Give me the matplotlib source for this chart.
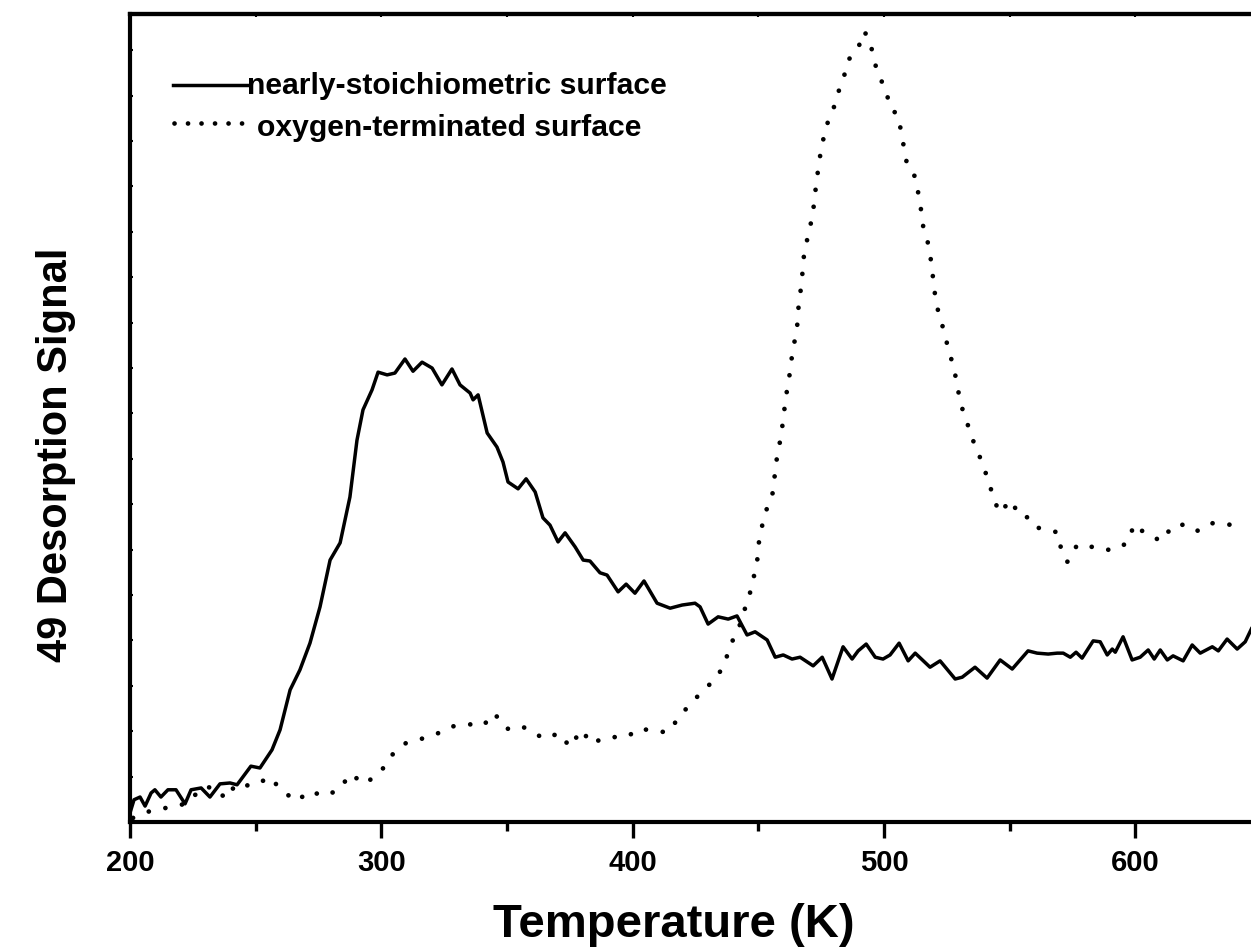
import numpy as np
import matplotlib
matplotlib.use('Agg')
import matplotlib.pyplot as plt
from matplotlib.ticker import MultipleLocator, NullFormatter

plt.rcParams['font.family'] = ['Liberation Sans', 'DejaVu Sans']
plt.rcParams['font.weight'] = 'bold'

# nearly-stoichiometric surface (solid)
t_stoich = [
    200.0, 201.6, 204.0, 206.0, 208.4, 209.9, 212.3, 215.1, 218.3, 221.9,
    224.3, 228.3, 231.8, 235.8, 239.8, 242.6, 248.1, 251.7, 256.5, 259.7,
    263.7, 267.6, 271.6, 275.6, 279.6, 283.6, 287.5, 290.3, 292.7, 296.3,
    298.7, 302.3, 305.4, 309.4, 312.6, 316.2, 320.2, 324.1, 328.1, 331.3,
    335.3, 336.5, 338.5, 342.1, 346.0, 348.4, 350.4, 354.4, 357.6, 361.2,
    364.3, 367.1, 370.3, 373.1, 377.1, 380.3, 383.0, 387.0, 389.8, 394.2,
    397.4, 400.9, 404.5, 409.7, 414.9, 419.7, 424.8, 426.8, 430.0, 434.0,
    438.0, 441.5, 445.5, 448.7, 453.5, 456.7, 459.9, 463.4, 466.6, 471.8,
    475.4, 479.3, 483.7, 487.3, 489.7, 492.9, 496.5, 499.6, 502.4, 506.0,
    509.6, 512.4, 518.3, 522.3, 528.3, 531.1, 536.2, 541.0, 546.2, 551.0,
    557.3, 560.9, 565.3, 568.9, 571.3, 574.1, 576.4, 578.8, 583.2, 586.0,
    588.8, 590.8, 592.0, 595.1, 598.7, 601.9, 605.1, 607.5, 609.9, 612.7,
    615.0, 619.0, 622.6, 625.8, 630.6, 633.0, 636.5, 640.5, 643.7, 646.1,
    648.0,
]
s_stoich = [
    0.20, 0.49, 0.55, 0.35, 0.64, 0.71, 0.55, 0.71, 0.71, 0.40,
    0.71, 0.75, 0.55, 0.84, 0.86, 0.82, 1.23, 1.19, 1.59, 2.03,
    2.91, 3.35, 3.94, 4.74, 5.77, 6.15, 7.16, 8.41, 9.08, 9.52,
    9.91, 9.85, 9.89, 10.20, 9.93, 10.13, 10.00, 9.63, 9.98, 9.63,
    9.45, 9.30, 9.41, 8.57, 8.26, 7.93, 7.49, 7.34, 7.56, 7.27,
    6.70, 6.54, 6.17, 6.37, 6.06, 5.77, 5.75, 5.49, 5.44, 5.07,
    5.24, 5.04, 5.31, 4.82, 4.71, 4.78, 4.82, 4.74, 4.36, 4.52,
    4.47, 4.54, 4.12, 4.19, 4.01, 3.63, 3.68, 3.59, 3.63, 3.44,
    3.63, 3.15, 3.86, 3.59, 3.77, 3.92, 3.63, 3.59, 3.68, 3.94,
    3.55, 3.72, 3.41, 3.55, 3.15, 3.19, 3.41, 3.17, 3.57, 3.37,
    3.77, 3.72, 3.70, 3.72, 3.72, 3.63, 3.74, 3.61, 3.99, 3.97,
    3.68, 3.81, 3.74, 4.08, 3.57, 3.63, 3.79, 3.59, 3.79, 3.57,
    3.66, 3.55, 3.90, 3.72, 3.86, 3.77, 4.03, 3.81, 3.97, 4.25,
    4.45,
]

# oxygen-terminated surface (dotted)
t_oxy = [
    201.2, 204.4, 211.1, 217.9, 223.5, 228.3, 233.4, 238.2, 242.2, 248.9,
    255.7, 260.5, 266.5, 271.2, 277.6, 283.6, 287.5, 293.5, 299.9, 304.3,
    309.8, 315.8, 321.4, 326.9, 333.7, 340.5, 344.8, 350.0, 355.6, 360.0,
    365.1, 370.7, 375.1, 379.5, 383.8, 388.2, 392.6, 397.4, 403.3, 407.3,
    414.1, 418.9, 423.2, 428.0, 433.2, 436.8, 438.4, 441.9, 443.9, 446.3,
    447.9, 449.5, 449.9, 451.1, 452.7, 455.5, 456.3, 457.1, 458.3, 459.4,
    460.2, 461.0, 462.2, 463.0, 464.2, 465.4, 465.8, 466.6, 467.4, 467.8,
    469.0, 470.6, 471.8, 472.6, 473.4, 474.2, 475.4, 477.0, 479.7, 481.7,
    484.1, 485.7, 489.7, 492.1, 494.5, 495.7, 497.6, 500.8, 502.4, 505.6,
    506.8, 508.0, 509.2, 512.4, 513.6, 514.8, 515.6, 517.6, 518.7, 519.5,
    520.3, 521.5, 523.5, 525.1, 527.1, 528.7, 529.9, 531.5, 533.9, 536.2,
    539.0, 541.4, 543.4, 545.8, 550.6, 553.8, 558.5, 561.3, 565.3, 569.3,
    570.5, 572.9, 576.8, 580.4, 586.8, 592.8, 597.1, 599.5, 604.7, 610.7,
    614.6, 620.6, 625.0, 631.0, 636.1, 641.7,
]
s_oxy = [
    0.09, 0.18, 0.29, 0.33, 0.44, 0.75, 0.77, 0.51, 0.84, 0.79,
    0.99, 0.68, 0.46, 0.68, 0.57, 0.73, 1.06, 0.84, 1.12, 1.48,
    1.74, 1.83, 1.92, 2.09, 2.16, 2.12, 2.40, 2.05, 2.12, 1.98,
    1.83, 1.96, 1.65, 2.03, 1.72, 1.85, 1.87, 1.87, 2.07, 2.00,
    1.98, 2.34, 2.62, 2.89, 3.17, 3.50, 3.86, 4.21, 4.58, 4.96,
    5.33, 5.71, 6.06, 6.43, 6.81, 7.18, 7.53, 7.93, 8.28, 8.66,
    9.03, 9.38, 9.76, 10.13, 10.53, 10.88, 11.26, 11.61, 11.98, 12.36,
    12.73, 13.11, 13.46, 13.86, 14.21, 14.56, 14.93, 15.33, 15.68, 16.06,
    16.43, 16.78, 17.05, 17.42, 17.20, 16.85, 16.48, 16.12, 15.73, 15.57,
    15.20, 14.82, 14.47, 14.21, 13.86, 13.46, 13.11, 12.73, 12.36, 11.98,
    11.61, 11.26, 10.88, 10.53, 10.13, 9.76, 9.38, 9.03, 8.66, 8.28,
    7.93, 7.53, 7.18, 6.81, 7.09, 6.74, 6.70, 6.48, 6.45, 6.37,
    5.99, 5.73, 6.10, 6.10, 5.99, 6.01, 6.17, 6.56, 6.32, 6.19,
    6.52, 6.56, 6.41, 6.59, 6.56, 6.52,
]

labels = ['nearly-stoichiometric surface', 'oxygen-terminated surface']
xticks = [200, 300, 400, 500, 600]

fig = plt.figure(figsize=(12.51, 9.5), dpi=100)
ax = fig.add_axes([130 / 1251, 128 / 950, 1121 / 1251, 808 / 950])

dot_style = (0, (0.01, 3.6))
ax.plot(t_stoich, s_stoich, color='black', lw=2.5, solid_joinstyle='round',
        solid_capstyle='round')
ax.plot(t_oxy, s_oxy, color='black', lw=3.4, linestyle=dot_style,
        dash_capstyle='round')

ax.set_xlim(200, 646)
ax.set_ylim(0, 17.8)

ax.spines['right'].set_visible(False)
for side in ['left', 'bottom', 'top']:
    ax.spines[side].set_linewidth(3.0)

ax.set_xticks(xticks)
ax.xaxis.set_minor_locator(MultipleLocator(50))
ax.tick_params(axis='x', which='major', direction='out', length=11.5,
               width=2.4, labelsize=21, pad=8)
ax.tick_params(axis='x', which='minor', direction='out', length=6.5,
               width=2.4)
ax.yaxis.set_major_locator(MultipleLocator(1))
ax.yaxis.set_major_formatter(NullFormatter())
ax.tick_params(axis='y', which='major', direction='in', length=2.5,
               width=1.5)
for lab in ax.get_xticklabels():
    lab.set_fontweight('bold')

top = ax.secondary_xaxis('top')
top.set_xticks(np.arange(200, 650, 50))
top.tick_params(direction='in', length=2.5, width=1.5, labeltop=False)
top.spines['top'].set_linewidth(3.0)

# legend drawn by hand
ax.plot([43 / 1121, 117 / 1121], [(822 - 85) / 808] * 2, color='black',
        lw=2.5, transform=ax.transAxes)
ax.plot([44 / 1121, 112 / 1121], [(822 - 123) / 808] * 2, color='black',
        lw=3.4, linestyle=(0, (0.01, 2.85)), dash_capstyle='round',
        transform=ax.transAxes)
ax.text(117 / 1121, (822 - 86) / 808, labels[0], transform=ax.transAxes,
        fontsize=21.7, fontweight='bold', ha='left', va='center')
ax.text(127 / 1121, (822 - 128) / 808, labels[1], transform=ax.transAxes,
        fontsize=21.7, fontweight='bold', ha='left', va='center')

fig.text(674 / 1251, 1 - 925 / 950, 'Temperature (K)', fontsize=34,
         fontweight='bold', ha='center', va='center')
fig.text(56 / 1251, 1 - 455 / 950, '49 Desorption Signal', fontsize=30,
         fontweight='bold', ha='center', va='center', rotation=90)

plt.savefig('out.png', dpi=100)
